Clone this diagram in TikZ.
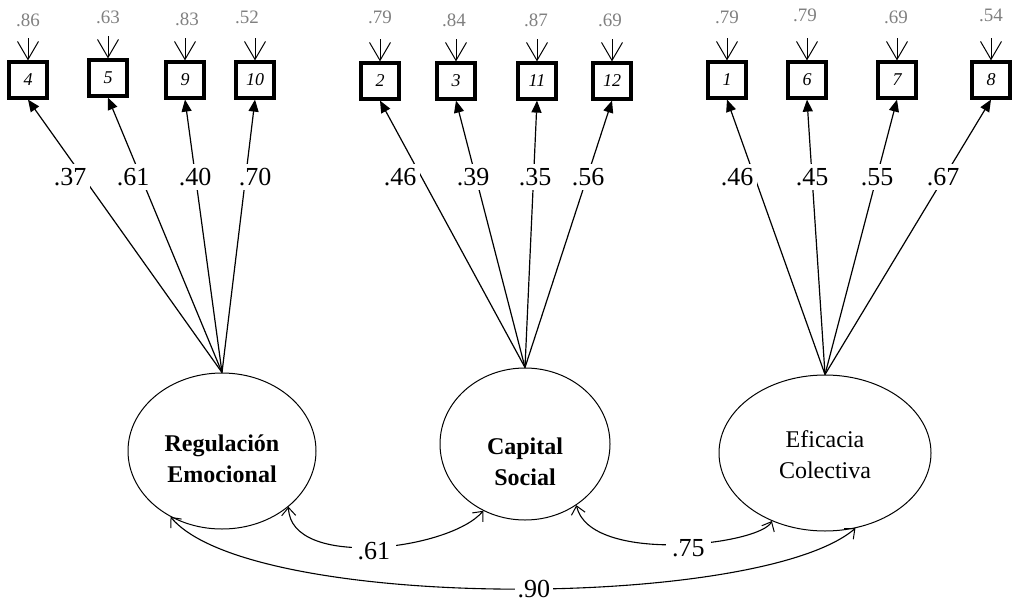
\documentclass[tikz,border=0pt]{standalone}
\usepackage{fontspec}
\setmainfont{Liberation Serif}
\usetikzlibrary{arrows.meta,shapes.geometric}
\definecolor{errgray}{RGB}{128,128,128}
\tikzset{
  ind/.style={draw, line width=3.2pt, minimum width=38pt, minimum height=36pt,
    inner sep=0pt, font=\fontsize{18}{18}\selectfont\itshape},
  fac/.style={draw, ellipse, line width=1pt, inner sep=0pt},
  factext/.style={align=center, inner sep=0pt, font=\fontsize{24}{31}\selectfont\bfseries},
  load/.style={line width=1.2pt, -{Triangle[length=12pt,width=10pt]}},
  err/.style={line width=1pt, -{Straight Barb[length=18pt,width=21pt,line width=1pt]}},
  cov/.style={line width=1.1pt,
    {Straight Barb[length=8pt,width=14pt,line width=1pt]}-{Straight Barb[length=8pt,width=14pt,line width=1pt]}},
  lbl/.style={fill=white, inner sep=4pt, font=\fontsize{26}{26}\selectfont},
  elbl/.style={text=errgray, inner sep=0pt, font=\fontsize{19}{19}\selectfont},
}
\begin{document}
\begin{tikzpicture}[x=1pt,y=-1pt]
\useasboundingbox (0,0) rectangle (1014,605);

% observed indicators
\node[ind] (b4)  at (28,80)  {4};
\node[ind] (b5)  at (108,78) {5};
\node[ind] (b9)  at (185,80) {9};
\node[ind] (b10) at (255,80) {10};
\node[ind] (b2)  at (380,81) {2};
\node[ind] (b3)  at (456,81) {3};
\node[ind] (b11) at (537,81) {11};
\node[ind] (b12) at (612,81) {12};
\node[ind] (b1)  at (727,80) {1};
\node[ind] (b6)  at (807,80) {6};
\node[ind] (b7)  at (897,80) {7};
\node[ind] (b8)  at (991,80) {8};

% latent factors and their names
\node[fac, minimum width=188pt, minimum height=156pt] (R) at (222,451) {};
\node[fac, minimum width=170pt, minimum height=152pt] (C) at (525,444) {};
\node[fac, minimum width=212pt, minimum height=156pt] (E) at (825,453) {};
\node[factext] (Rt) at (222,459) {Regulación\\Emocional};
\node[factext] (Ct) at (525,462) {Capital\\Social};
\node[factext, font=\fontsize{24}{31}\selectfont\mdseries] (Et) at (825,455) {Eficacia\\Colectiva};

% error terms
\foreach \b/\x/\ly/\v in {b4/28/20/.86, b5/108/17/.63, b9/187/19/.83, b10/247/17/.52,
    b2/380/17/.79, b3/454/20/.84, b11/536/20/.87, b12/610/20/.69,
    b1/727/17/.79, b6/805/15/.79, b7/896/17/.69, b8/991/15/.54}{
  \coordinate (e\b) at ([yshift=22pt]\b.north);
  \node[elbl] (n\b) at (\x,\ly) {\v};
  \draw[err] (e\b) -- (\b.north);
}

% factor loadings
\foreach \b in {b4,b5,b9,b10}{\draw[load] (R.north) -- (\b.south);}
\foreach \b in {b2,b3,b11,b12}{\draw[load] (C.north) -- (\b.south);}
\foreach \b in {b1,b6,b7,b8}{\draw[load] (E.north) -- (\b.south);}

\node[lbl] (l4)  at (70,177)  {.37};
\node[lbl] (l5)  at (133,177) {.61};
\node[lbl] (l9)  at (195,177) {.40};
\node[lbl] (l10) at (255,177) {.70};
\node[lbl] (l2)  at (400,177) {.46};
\node[lbl] (l3)  at (473,177) {.39};
\node[lbl] (l11) at (535,177) {.35};
\node[lbl] (l12) at (588,177) {.56};
\node[lbl] (l1)  at (737,177) {.46};
\node[lbl] (l6)  at (812,177) {.45};
\node[lbl] (l7)  at (877,177) {.55};
\node[lbl] (l8)  at (943,177) {.67};

% factor correlations
\draw[cov] (R.-40) .. controls (290,570) and (450,550) .. (C.-122)
  node[lbl, pos=0.5, inner sep=6pt, yshift=-4pt] (rc) {.61};
\draw[cov] (C.-50) .. controls (590,565) and (760,545) .. (E.-128)
  node[lbl, pos=0.55, inner sep=6pt, yshift=-4pt] (ce) {.75};
\draw[cov] (R.-128) .. controls (250,612) and (760,610) .. (E.-68)
  node[lbl, pos=0.53, inner sep=3pt] (re) {.90};
\end{tikzpicture}
\end{document}
